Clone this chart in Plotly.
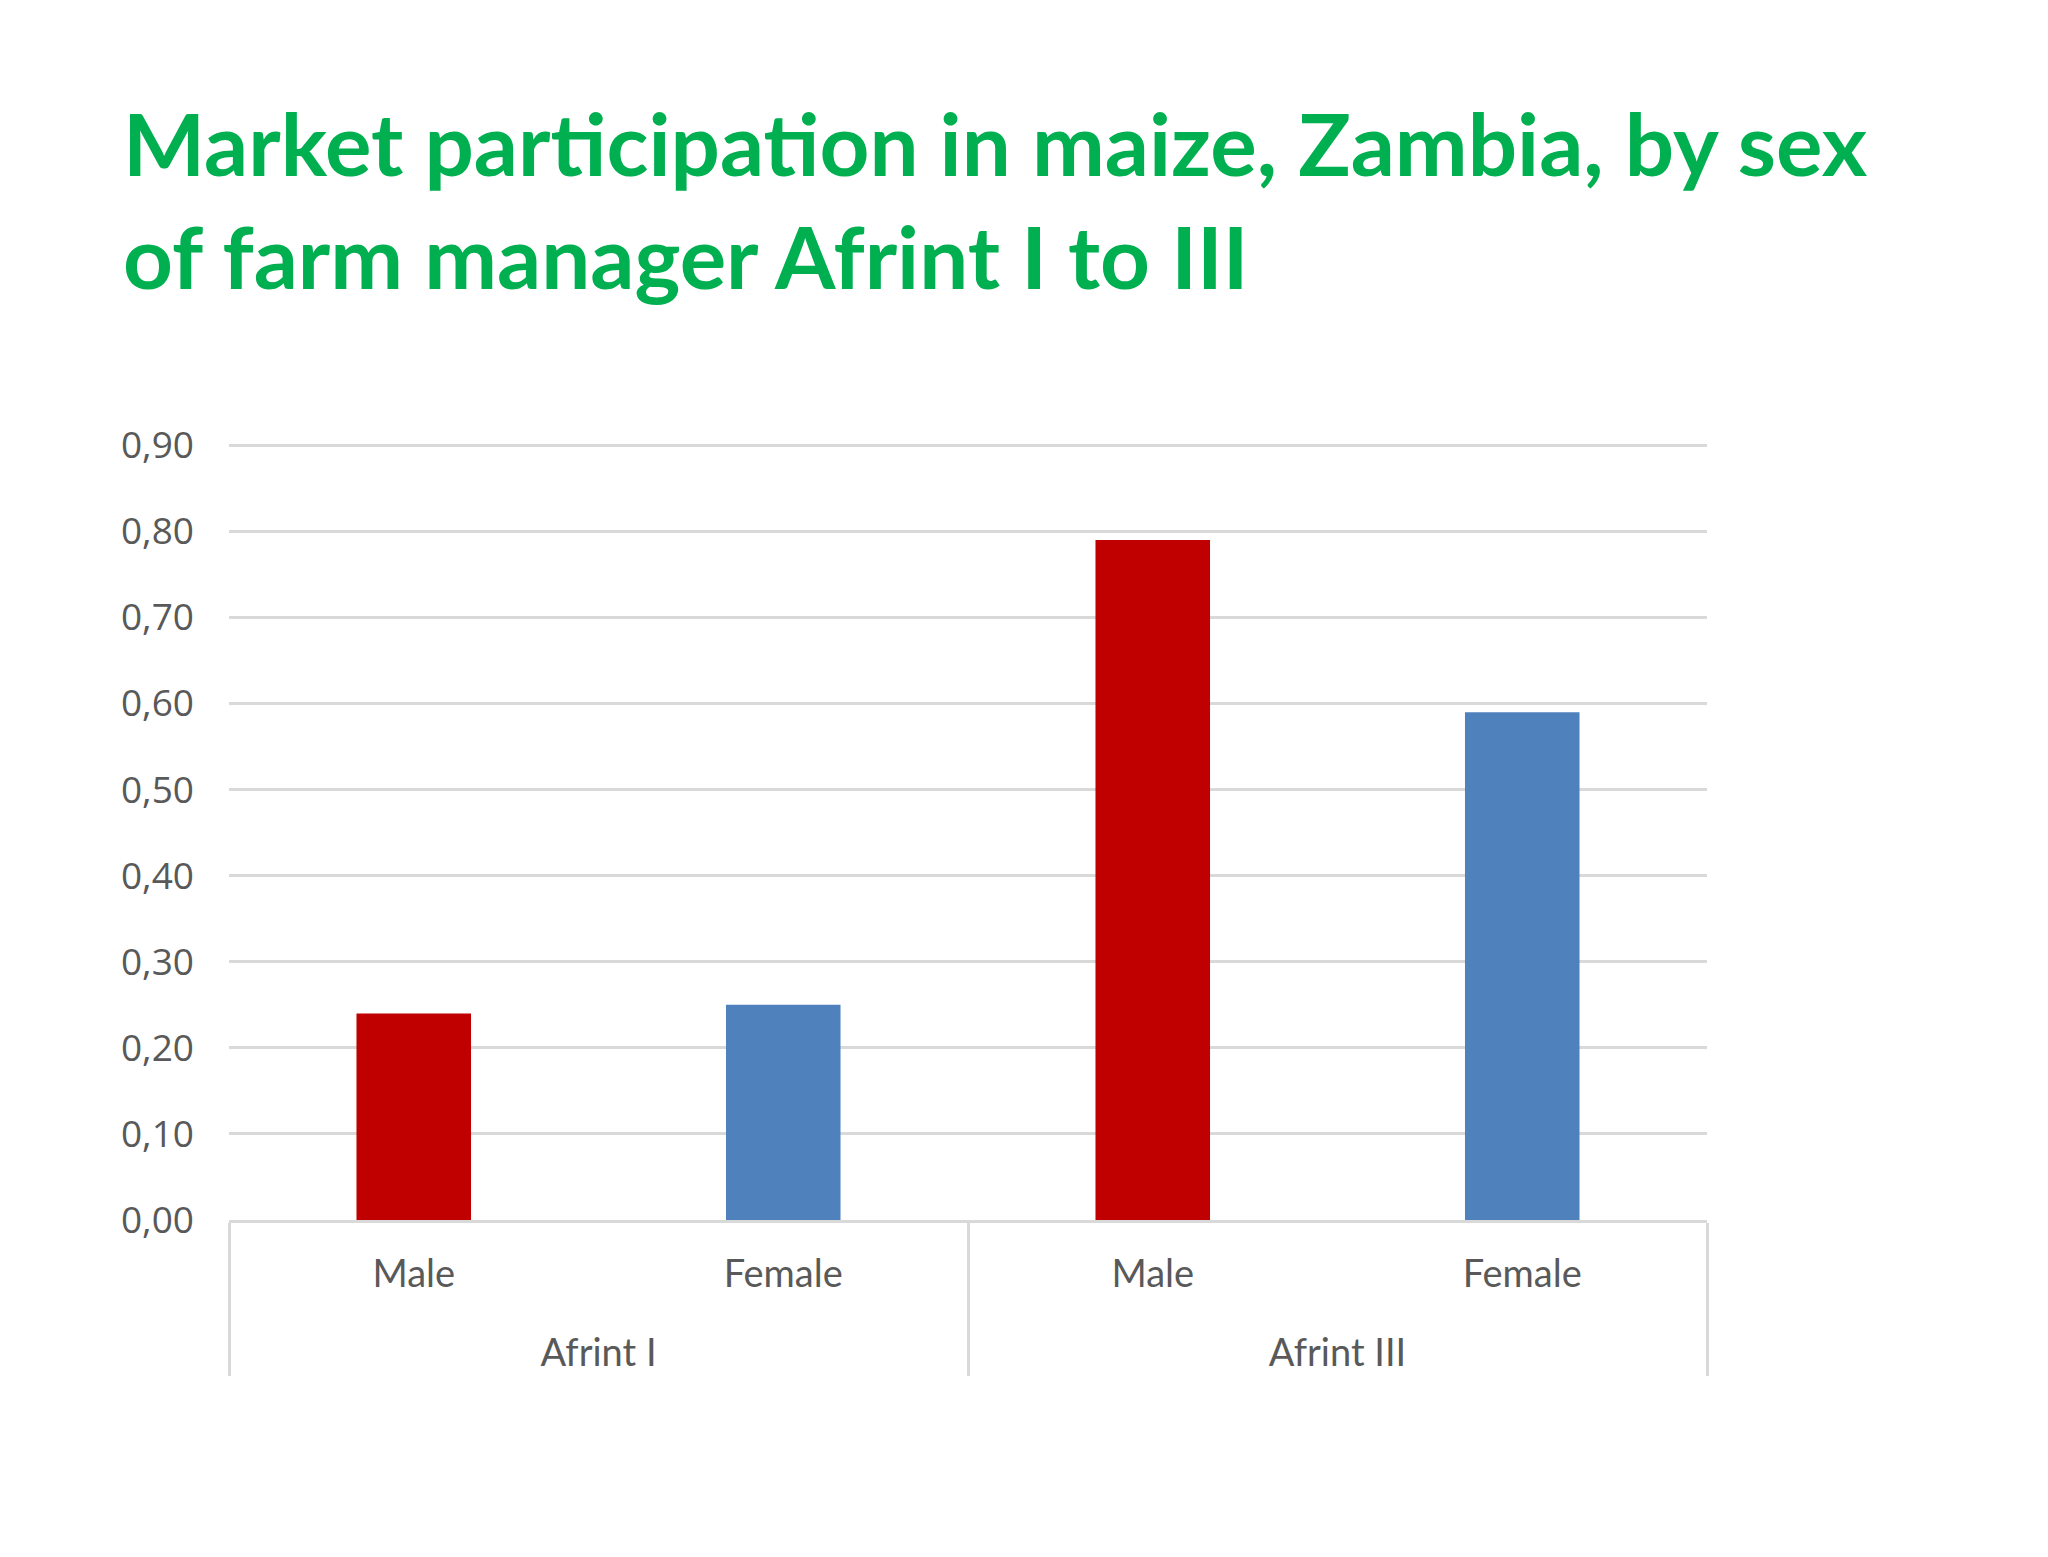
import plotly.graph_objects as go

# survey rounds and sex of farm manager
rounds = ["Afrint I", "Afrint I", "Afrint III", "Afrint III"]
sexes = ["Male", "Female", "Male", "Female"]
participation = [0.24, 0.25, 0.79, 0.59]
bar_colors = ["#C00000", "#4F81BD", "#C00000", "#4F81BD"]

y_ticks = [0.0, 0.1, 0.2, 0.3, 0.4, 0.5, 0.6, 0.7, 0.8, 0.9]

# blank first line pushes the outer group labels (and dividers) further down
outer = ["<br>" + r for r in rounds]

fig = go.Figure()
fig.add_trace(go.Bar(
    x=[outer, sexes],
    y=participation,
    marker=dict(color=bar_colors, line=dict(width=0)),
    hoverinfo="y",
))

fig.update_layout(
    width=2048,
    height=1557,
    paper_bgcolor="white",
    plot_bgcolor="white",
    separators=",.",
    showlegend=False,
    bargap=0.69,
    margin=dict(l=221, r=349, t=436, b=345),
    title=dict(
        text="Market participation in maize, Zambia, by sex<br>of farm manager Afrint I to III",
        xref="container", yref="container",
        x=115 / 2048, xanchor="left",
        y=1 - 168 / 1557, yanchor="middle",
        font=dict(family="Lato", size=87, color="#00B050", weight="bold"),
    ),
)

fig.update_yaxes(
    range=[0, 0.9015],
    tickvals=y_ticks,
    tickformat=".2f",
    showgrid=True,
    gridcolor="#D9D9D9",
    gridwidth=3,
    zeroline=False,
    showline=False,
    ticks="",
    ticklabelstandoff=34,
    tickfont=dict(family="Open Sans", size=37, color="#595959"),
)

fig.update_xaxes(
    type="multicategory",
    showline=True,
    linecolor="#D9D9D9",
    linewidth=3,
    showdividers=True,
    dividercolor="#D9D9D9",
    dividerwidth=3,
    ticks="",
    ticklabelstandoff=18,
    tickfont=dict(family="Lato", size=38, color="#595959"),
)

fig.write_html("out.html")
